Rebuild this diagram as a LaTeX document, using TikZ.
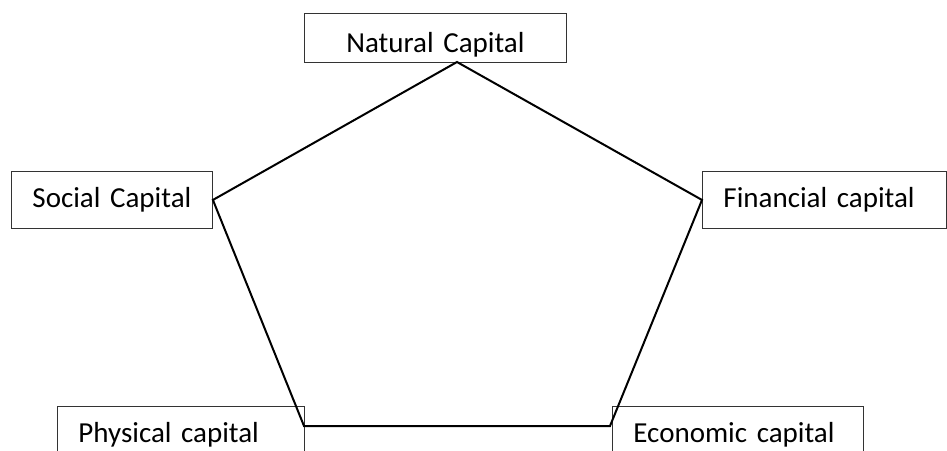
\documentclass[tikz,border=0pt]{standalone}
\usepackage{fontspec}
\setmainfont{Carlito}
\usetikzlibrary{positioning}
\tikzset{
  % caixa de rotulo (capital)
  capbox/.style={rectangle, draw=black!80, line width=0.9pt, anchor=north west,
                 inner xsep=21pt, inner ysep=0pt, minimum height=57pt,
                 text height=21pt, text depth=6pt, align=left,
                 font=\fontsize{29}{35}\selectfont},
  % lados do pentagono
  edge/.style={draw=black, line width=2pt, line join=miter}
}
\begin{document}
\begin{tikzpicture}[x=1pt,y=-1pt]
    \useasboundingbox (0,0) rectangle (947,450);
    \clip (0,0) rectangle (947,450);

    % caixas
    \node[capbox, minimum height=49pt, text width=220pt, align=center,
          text height=35pt] (natural) at (304,13) {Natural Capital};
    \node[capbox, text width=159pt] (social) at (11,171) {Social Capital};
    \node[capbox, text width=202pt] (financial) at (702,171) {Financial capital};
    \node[capbox, text width=205pt] (physical) at (57,406) {Physical capital};
    \node[capbox, text width=209pt] (economic) at (612,406) {Economic capital};

    % vertices do pentagono
    \coordinate (vtop) at (457,62);
    \coordinate (vbl) at (304,426);
    \coordinate (vbr) at (610,426);

    % pentagono
    \draw[edge] (vtop) -- (financial.west) -- (vbr) -- (vbl) -- (social.east) -- cycle;
\end{tikzpicture}
\end{document}
